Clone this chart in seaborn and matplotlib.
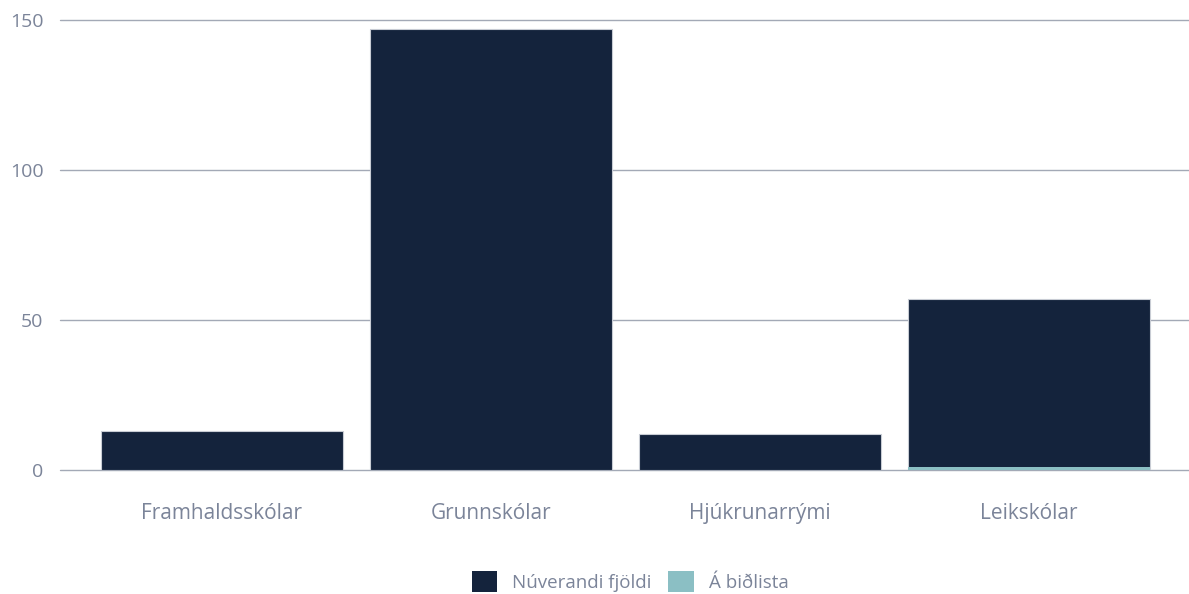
import matplotlib
matplotlib.use("Agg")
import matplotlib.pyplot as plt
import seaborn as sns
import pandas as pd
import numpy as np
from matplotlib.patches import Patch

categories = ["Framhaldsskólar", "Grunnskólar", "Hjúkrunarrými", "Leikskólar"]
current = [13, 147, 12, 56]
waitlist = [0, 0, 0, 1]
series_names = ["Núverandi fjöldi", "Á biðlista"]
yticks = [0, 50, 100, 150]

dark = "#14233c"
teal = "#8bbfc4"
text_c = "#7b8499"
grid_c = "#a3a9b6"

sns.set_theme(style="white")
plt.rcParams['font.family'] = ['Open Sans', 'DejaVu Sans']

df = pd.DataFrame({"cat": categories, "current": current, "waitlist": waitlist})
df["total"] = df["current"] + df["waitlist"]

fig = plt.figure(figsize=(11.89, 5.94), dpi=100)
ax = fig.add_axes([60/1189, (594-470)/594, 1 - 60/1189, 450/594])

sns.barplot(data=df, x="cat", y="total", color=dark, width=0.9, ax=ax,
            edgecolor="#c8ccd4", linewidth=0.8, saturation=1, zorder=3)
sns.barplot(data=df, x="cat", y="waitlist", color=teal, width=0.9, ax=ax,
            linewidth=0, saturation=1, zorder=4)

ax.set_xlim(-0.602, 3.595)
ax.set_ylim(0, 150)
ax.set_yticks(yticks)
ax.set_yticklabels([str(t) for t in yticks])
for t in yticks:
    ax.axhline(t, color=grid_c, linewidth=1, zorder=1, clip_on=False)
for s in ax.spines.values():
    s.set_visible(False)
ax.set_xlabel("")
ax.set_ylabel("")
ax.tick_params(axis="y", length=0, pad=12, labelsize=14, labelcolor=text_c)
ax.tick_params(axis="x", length=0, pad=24, labelsize=15, labelcolor=text_c)

handles = [Patch(facecolor=dark, edgecolor="none"), Patch(facecolor=teal, edgecolor="none")]
fig.legend(handles, series_names, loc="lower center", bbox_to_anchor=(0.53, -0.025),
           ncol=2, frameon=False, fontsize=13.5, labelcolor=text_c,
           handlelength=1.35, handleheight=1.35, handletextpad=0.8, columnspacing=0.9)

fig.savefig("out.png", dpi=100)
